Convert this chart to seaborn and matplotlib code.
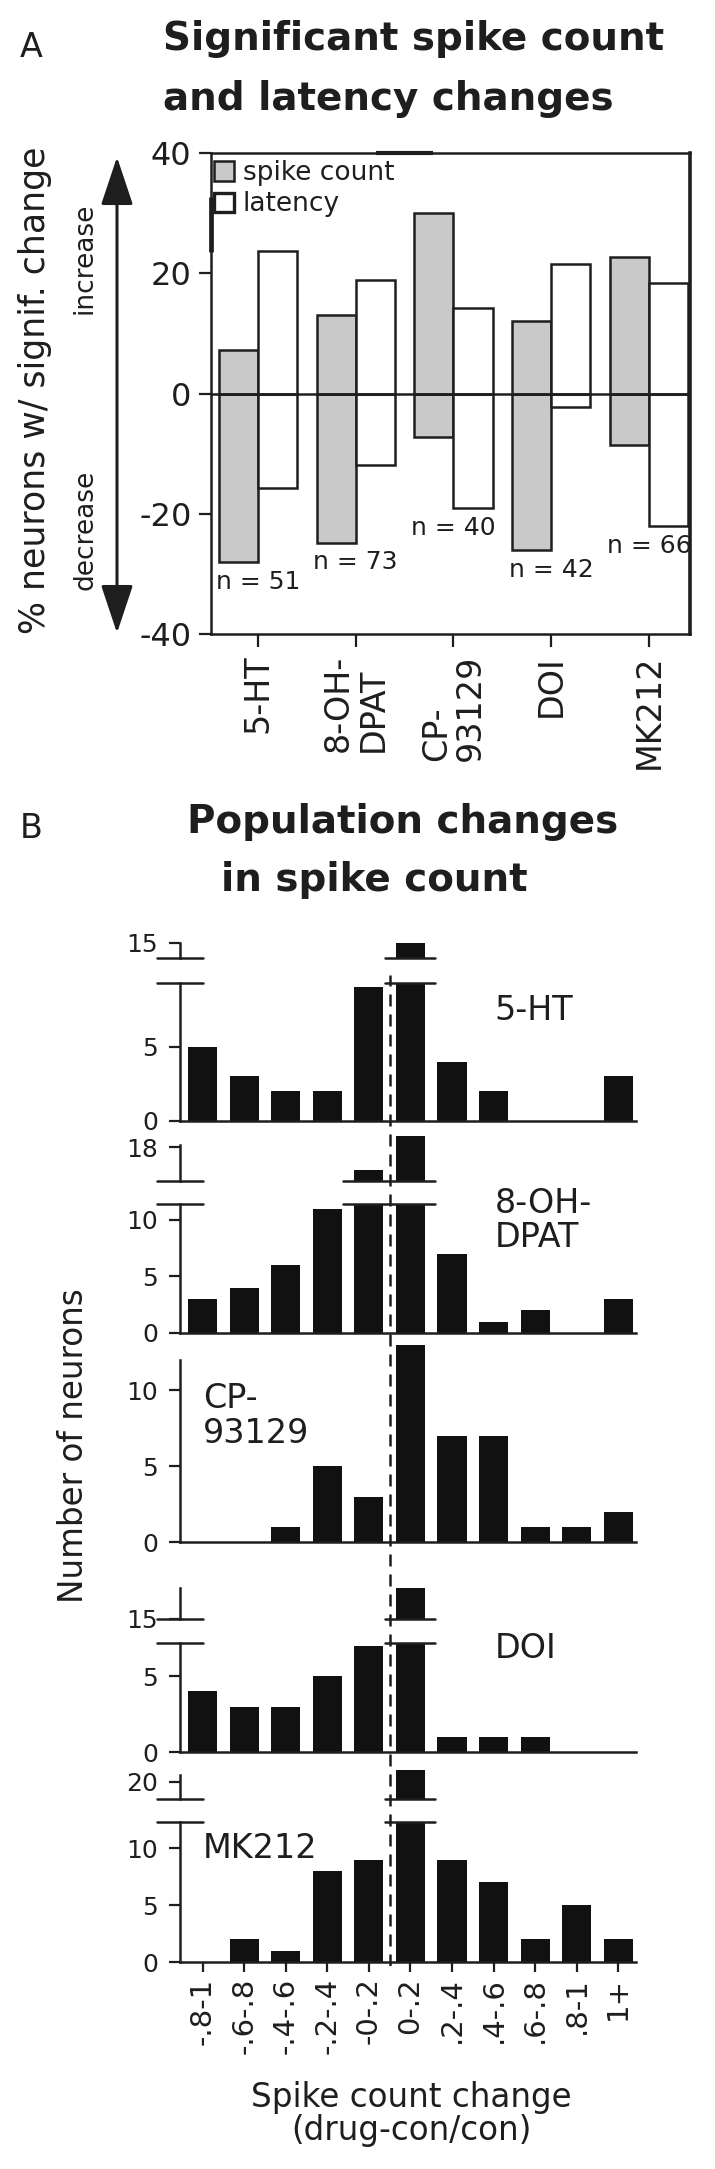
import matplotlib
matplotlib.use('Agg')
import matplotlib.pyplot as plt
from matplotlib.patches import Patch, FancyArrowPatch
import numpy as np
import pandas as pd
import seaborn as sns

# ---- panel A data (% of neurons with a significant change) ----
drugs = ['5-HT', '8-OH-DPAT', 'CP-93129', 'DOI', 'MK212']
drug_ticklabels = ['5-HT', '8-OH-\nDPAT', 'CP-\n93129', 'DOI', 'MK212']
n_cells = [51, 73, 40, 42, 66]
spike_increase = [7.3, 13.0, 30.1, 12.0, 22.7]
spike_decrease = [-28.1, -24.8, -7.2, -26.0, -8.6]
latency_increase = [23.7, 18.8, 14.2, 21.5, 18.3]
latency_decrease = [-15.8, -11.9, -19.1, -2.3, -22.0]

# ---- panel B data (number of neurons per spike count change bin) ----
bins = ['-.8-1', '-.6-.8', '-.4-.6', '-.2-.4', '-0-.2', '0-.2', '.2-.4', '.4-.6', '.6-.8', '.8-1', '1+']
counts_5ht = [5, 3, 2, 2, 9, 15, 4, 2, 0, 0, 3]
counts_8ohdpat = [3, 4, 6, 11, 16, 19, 7, 1, 2, 0, 3]
counts_cp93129 = [0, 0, 1, 5, 3, 13, 7, 7, 1, 1, 2]
counts_doi = [4, 3, 3, 5, 7, 17, 1, 1, 1, 0, 0]
counts_mk212 = [0, 2, 1, 8, 9, 21, 9, 7, 2, 5, 2]

sns.set_style('ticks')
plt.rcParams['font.family'] = ['DejaVu Sans']
plt.rcParams['axes.unicode_minus'] = False
ink = '#1e1e1e'
gray = '#c9c9c9'
plt.rcParams['text.color'] = ink
plt.rcParams['axes.edgecolor'] = ink
plt.rcParams['xtick.color'] = ink
plt.rcParams['ytick.color'] = ink

W, H = 715, 2169
fig = plt.figure(figsize=(W / 100, H / 100), dpi=100)


def axes_px(left, top, right, bottom):
    # place an axes using pixel edges measured from the top-left corner
    return fig.add_axes([left / W, 1 - bottom / H, (right - left) / W, (bottom - top) / H])


def text_px(x, y, s, **kw):
    return fig.text(x / W, 1 - y / H, s, **kw)


# ================= panel A =================
text_px(20, 57, 'A', fontsize=24, va='baseline')
text_px(163, 50, 'Significant spike count', fontsize=28, fontweight='bold', va='baseline')
text_px(163, 110, 'and latency changes', fontsize=28, fontweight='bold', va='baseline')

ax_a = axes_px(211, 153, 690, 634)
df_a = pd.DataFrame({
    'drug': drugs * 4,
    'measure': ['spike count'] * 5 + ['latency'] * 5 + ['spike count'] * 5 + ['latency'] * 5,
    'pct': spike_increase + latency_increase + spike_decrease + latency_decrease,
    'direction': ['increase'] * 10 + ['decrease'] * 10,
})
for direction, part in df_a.groupby('direction'):
    sns.barplot(data=part, x='drug', y='pct', hue='measure', order=drugs,
                hue_order=['spike count', 'latency'], palette=[gray, 'white'],
                saturation=1, edgecolor=ink, linewidth=1.8, width=0.8,
                errorbar=None, legend=False, ax=ax_a)

ax_a.axhline(0, color=ink, lw=1.8, zorder=5)
ax_a.set_xlim(-0.48, 4.42)
ax_a.set_ylim(-40, 40)
ax_a.set_yticks([-40, -20, 0, 20, 40])
ax_a.set_xticks(range(len(drugs)))
ax_a.set_xticklabels(drug_ticklabels, rotation=90, linespacing=1.05)
for lbl in ax_a.get_xticklabels():
    lbl.set_multialignment('left')
ax_a.set_xlabel('')
ax_a.set_ylabel('')
ax_a.tick_params(axis='y', labelsize=23, length=9, width=1.6, pad=5)
ax_a.tick_params(axis='x', labelsize=24, length=9, width=1.6, pad=6)
for side in ['top', 'bottom', 'left', 'right']:
    ax_a.spines[side].set_linewidth(1.8)
ax_a.spines['right'].set_linewidth(2.6)
# heavier strokes left over from the original legend box
ax_a.plot([0, 0], [0.794, 0.909], transform=ax_a.transAxes, color=ink, lw=3.4,
          clip_on=False, solid_capstyle='butt')
ax_a.plot([0.344, 0.463], [1, 1], transform=ax_a.transAxes, color=ink, lw=3.0,
          clip_on=False, solid_capstyle='butt')

for i, (n, lo) in enumerate(zip(n_cells, np.minimum(spike_decrease, latency_decrease))):
    ax_a.text(i, lo - 3.3, f'n = {n}', ha='center', va='center', fontsize=18)

handles = [Patch(facecolor=gray, edgecolor=ink, linewidth=1.8),
           Patch(facecolor='white', edgecolor=ink, linewidth=2.4)]
ax_a.legend(handles, ['spike count', 'latency'], loc='upper left',
            bbox_to_anchor=(0.006, 0.985), frameon=False, fontsize=19,
            handlelength=0.75, handleheight=0.75, handletextpad=0.35,
            labelspacing=0.2, borderpad=0, borderaxespad=0)

text_px(35, 390, '% neurons w/ signif. change', fontsize=25, rotation=90,
        ha='center', va='center')
text_px(85, 258, 'increase', fontsize=19, rotation=90, ha='center', va='center')
text_px(85, 530, 'decrease', fontsize=19, rotation=90, ha='center', va='center')
fig.add_artist(FancyArrowPatch(
    (117 / W, 1 - 633 / H), (117 / W, 1 - 157 / H), transform=fig.transFigure,
    arrowstyle='<|-|>,head_length=1.5,head_width=0.5', mutation_scale=20,
    lw=2.2, color=ink, shrinkA=0, shrinkB=0))

# ================= panel B =================
text_px(20, 838, 'B', fontsize=24, va='baseline')
text_px(187, 833, 'Population changes', fontsize=28, fontweight='bold', va='baseline')
text_px(221, 891, 'in spike count', fontsize=28, fontweight='bold', va='baseline')

xlim_b = (-0.55, 10.43)
bx_left, bx_right = 180, 636

# (counts, name, label x/y in axes fraction, lower part, upper part)
# lower part: (top px, bottom px, ymin, ymax, yticks)
# upper part: (top px, bottom px, ymin, ymax, yticks, spine top)
panels = [
    (counts_5ht, '5-HT', (0.69, 0.80),
     (983, 1121, 0, 9.3, [0, 5]), (943, 958, 14, 15, [15], 15)),
    (counts_8ohdpat, '8-OH-\nDPAT', (0.69, 0.87),
     (1204, 1333, 0, 11.4, [0, 5, 10]), (1136, 1181, 15, 19, [18], 18.2)),
    (counts_cp93129, 'CP-\n93129', (0.05, 0.64),
     (1345, 1542, 0, 13, [0, 5, 10]), None),
    (counts_doi, 'DOI', (0.69, 0.945),
     (1643, 1752, 0, 7.2, [0, 5]), (1588, 1619, 15, 17, [15], 17)),
    (counts_mk212, 'MK212', (0.05, 0.81),
     (1822, 1962, 0, 12.3, [0, 5, 10]), (1767, 1799, 18.5, 21.3, [20], 20.6)),
]

tick_kw = dict(labelsize=18, length=8, width=1.6, direction='out', pad=8)
for k, (counts, name, (lx, ly), lower, upper) in enumerate(panels):
    top, bot, y0, y1, ticks = lower
    ax = axes_px(bx_left, top, bx_right, bot)
    sns.barplot(x=bins, y=counts, order=bins, color='#111111', saturation=1,
                width=0.7, errorbar=None, linewidth=0, ax=ax)
    ax.set_xlim(xlim_b)
    ax.set_ylim(y0, y1)
    ax.set_yticks(ticks)
    ax.tick_params(axis='y', **tick_kw)
    sns.despine(ax=ax)
    ax.spines['left'].set_linewidth(1.8)
    ax.spines['bottom'].set_linewidth(1.8)
    if k == len(panels) - 1:
        ax.tick_params(axis='x', labelsize=21, length=7, width=1.6, rotation=90, pad=4)
    else:
        ax.tick_params(axis='x', bottom=False, labelbottom=False)
    ax.text(lx, ly, name, transform=ax.transAxes, fontsize=24, va='center',
            ha='left', linespacing=1.05)

    if upper is None:
        ax.spines['left'].set_bounds(0, 12)
        continue

    broken = [i for i, c in enumerate(counts) if c > y1]
    ut, ub, u0, u1, uticks, utop = upper
    ax_u = axes_px(bx_left, ut, bx_right, ub)
    sns.barplot(x=bins, y=counts, order=bins, color='#111111', saturation=1,
                width=0.7, errorbar=None, linewidth=0, ax=ax_u)
    ax_u.set_xlim(xlim_b)
    ax_u.set_ylim(u0, u1)
    ax_u.set_yticks(uticks)
    ax_u.tick_params(axis='y', **tick_kw)
    ax_u.tick_params(axis='x', bottom=False, labelbottom=False)
    sns.despine(ax=ax_u, bottom=True)
    ax_u.spines['left'].set_linewidth(1.8)
    ax_u.spines['left'].set_bounds(u0, utop)

    # horizontal break marks at the axis and across the clipped bars
    spans = [(xlim_b[0] - 0.55, xlim_b[0] + 0.55),
             (min(broken) - 0.62, max(broken) + 0.6)]
    for xa, xb in spans:
        ax.plot([xa, xb], [y1, y1], color=ink, lw=1.8, clip_on=False)
        ax_u.plot([xa, xb], [u0, u0], color=ink, lw=1.8, clip_on=False)

# dashed divider between negative and positive changes
ax_dash = axes_px(bx_left, 975, bx_right, 1966)
ax_dash.set_xlim(xlim_b)
ax_dash.set_ylim(0, 1)
ax_dash.axvline(bins.index('0-.2') - 0.5, color=ink, lw=1.8, ls=(0, (4.8, 3.2)))
ax_dash.axis('off')

text_px(74, 1446, 'Number of neurons', fontsize=23.5, rotation=90, ha='center', va='center')
text_px(411, 2114, 'Spike count change\n(drug-con/con)', fontsize=23.5,
        ha='center', va='center', linespacing=1.0)

fig.savefig('out.png', dpi=100)
